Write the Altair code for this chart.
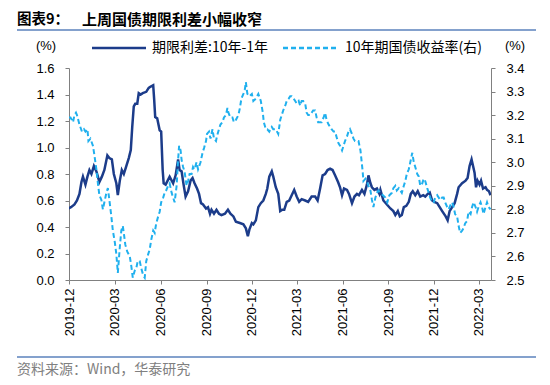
import altair as alt
import pandas as pd

start = pd.Timestamp("2019-12-01")

# 期限利差:10年-1年 (days since 2019-12-01, %)
spread_days = [-2, 3, 10, 15, 20, 24, 27, 32, 36, 40, 44, 49, 54, 60, 65, 70, 76, 80, 85, 89, 94, 97, 101, 105, 109, 114,
               119, 123, 126, 129, 132, 136, 139, 143, 147, 154, 159, 163, 168, 170, 172, 176, 181, 184, 187, 189, 193,
               197, 201, 208, 213, 218, 221, 225, 229, 233, 238, 243, 247, 251, 256, 260, 264, 268, 274, 278, 282, 285,
               290, 295, 300, 305, 312, 318, 323, 329, 334, 342, 349, 354, 358, 361, 366, 369, 374, 379, 384, 389, 394,
               397, 401, 406, 409, 414, 419, 423, 427, 431, 436, 441, 446, 451, 456, 461, 466, 473, 479, 486, 493, 498,
               503, 508, 513, 518, 523, 528, 533, 539, 543, 547, 551, 557, 561, 567, 572, 577, 581, 587, 592, 597, 600,
               604, 607, 612, 617, 622, 624, 630, 637, 644, 650, 654, 659, 663, 667, 671, 676, 681, 685, 689, 694, 699,
               704, 710, 714, 719, 723, 728, 732, 738, 743, 748, 755, 759, 763, 768, 773, 778, 781, 788, 795, 799, 803,
               807, 810, 813, 816, 819, 823, 826, 830, 835, 838, 842, 845]
spread_vals = [0.54, 0.55, 0.57, 0.60, 0.65, 0.74, 0.78, 0.72, 0.78, 0.83, 0.80, 0.86, 0.82, 0.74, 0.78, 0.83, 0.94, 0.92,
               0.91, 0.80, 0.73, 0.64, 0.75, 0.83, 0.80, 0.86, 0.92, 0.98, 1.16, 1.31, 1.33, 1.33, 1.41, 1.40, 1.41, 1.42,
               1.45, 1.46, 1.47, 1.36, 1.23, 1.22, 1.13, 1.12, 0.83, 0.73, 0.72, 0.75, 0.78, 0.73, 0.79, 0.91, 0.83, 0.82,
               0.72, 0.63, 0.67, 0.75, 0.77, 0.73, 0.69, 0.65, 0.58, 0.57, 0.54, 0.55, 0.50, 0.53, 0.50, 0.53, 0.50, 0.49,
               0.50, 0.53, 0.50, 0.48, 0.44, 0.43, 0.42, 0.39, 0.33, 0.38, 0.43, 0.42, 0.45, 0.55, 0.58, 0.60, 0.65, 0.69,
               0.78, 0.82, 0.78, 0.70, 0.65, 0.52, 0.53, 0.53, 0.59, 0.60, 0.64, 0.68, 0.63, 0.59, 0.61, 0.60, 0.59, 0.63,
               0.63, 0.60, 0.69, 0.79, 0.80, 0.83, 0.84, 0.83, 0.79, 0.74, 0.70, 0.64, 0.69, 0.68, 0.65, 0.58, 0.63, 0.65,
               0.64, 0.68, 0.65, 0.72, 0.79, 0.73, 0.70, 0.68, 0.69, 0.65, 0.68, 0.60, 0.57, 0.54, 0.52, 0.49, 0.52, 0.48,
               0.49, 0.55, 0.56, 0.59, 0.65, 0.67, 0.64, 0.67, 0.63, 0.64, 0.63, 0.65, 0.66, 0.60, 0.59, 0.58, 0.55, 0.52,
               0.48, 0.45, 0.52, 0.55, 0.58, 0.65, 0.70, 0.73, 0.75, 0.77, 0.86, 0.91, 0.86, 0.81, 0.70, 0.75, 0.72, 0.75,
               0.69, 0.70, 0.68, 0.67, 0.64]

# 10年期国债收益率(右) (days since 2019-12-01, %)
yield_days = [-2, 2, 7, 10, 13, 15, 20, 25, 29, 32, 36, 38, 42, 47, 50, 54, 57, 60, 64, 67, 70, 74, 77, 80, 84, 87, 91,
              94, 97, 101, 104, 107, 109, 112, 116, 121, 124, 127, 131, 134, 137, 141, 144, 148, 151, 154, 158, 161, 164,
              168, 171, 174, 178, 181, 184, 188, 191, 194, 198, 201, 205, 208, 211, 215, 218, 220, 223, 225, 228, 231,
              235, 238, 241, 245, 248, 251, 255, 258, 263, 267, 270, 274, 276, 280, 283, 287, 290, 294, 296, 300, 303,
              307, 310, 314, 317, 319, 323, 327, 330, 334, 339, 342, 345, 349, 352, 354, 357, 361, 366, 369, 374, 379,
              384, 388, 390, 394, 397, 401, 406, 409, 414, 419, 423, 426, 429, 433, 436, 440, 443, 446, 450, 453, 456,
              460, 463, 466, 469, 473, 476, 479, 483, 486, 489, 493, 496, 499, 503, 506, 510, 513, 516, 520, 523, 526,
              530, 533, 537, 540, 543, 547, 550, 553, 557, 560, 563, 567, 570, 573, 577, 580, 584, 586, 588, 590, 594,
              597, 600, 604, 607, 610, 614, 617, 620, 624, 629, 634, 638, 642, 647, 650, 654, 657, 661, 664, 667, 671,
              674, 677, 681, 684, 688, 691, 694, 698, 701, 704, 708, 711, 714, 718, 721, 724, 728, 731, 734, 738, 741,
              744, 748, 751, 754, 758, 761, 765, 768, 771, 774, 778, 781, 784, 788, 791, 794, 798, 801, 805, 808, 811,
              815, 818, 821, 825, 828, 831, 835, 838, 841, 845]
yield_vals = [3.19, 3.19, 3.17, 3.20, 3.21, 3.20, 3.16, 3.13, 3.14, 3.13, 3.14, 3.09, 3.10, 3.07, 3.03, 2.97, 2.91, 2.86,
              2.84, 2.80, 2.83, 2.87, 2.89, 2.84, 2.77, 2.71, 2.66, 2.61, 2.53, 2.64, 2.71, 2.73, 2.70, 2.65, 2.62, 2.60,
              2.56, 2.51, 2.54, 2.55, 2.58, 2.58, 2.55, 2.52, 2.51, 2.58, 2.61, 2.63, 2.67, 2.71, 2.70, 2.74, 2.77, 2.79,
              2.83, 2.85, 2.87, 2.88, 2.90, 2.91, 2.87, 2.85, 2.83, 2.90, 3.01, 3.07, 3.05, 3.01, 2.98, 2.96, 2.90, 2.92,
              2.95, 2.95, 2.98, 2.97, 3.00, 2.97, 3.00, 3.04, 3.06, 3.09, 3.12, 3.13, 3.10, 3.14, 3.10, 3.09, 3.11, 3.14,
              3.16, 3.17, 3.19, 3.20, 3.23, 3.21, 3.19, 3.19, 3.17, 3.18, 3.20, 3.23, 3.27, 3.29, 3.31, 3.34, 3.29, 3.28,
              3.29, 3.26, 3.27, 3.29, 3.26, 3.21, 3.17, 3.14, 3.14, 3.13, 3.15, 3.14, 3.14, 3.12, 3.18, 3.20, 3.22, 3.24,
              3.26, 3.27, 3.28, 3.28, 3.27, 3.26, 3.25, 3.26, 3.24, 3.26, 3.26, 3.25, 3.21, 3.20, 3.20, 3.21, 3.22, 3.22,
              3.19, 3.17, 3.17, 3.17, 3.19, 3.21, 3.18, 3.16, 3.15, 3.14, 3.13, 3.13, 3.10, 3.08, 3.07, 3.05, 3.07, 3.09,
              3.11, 3.13, 3.14, 3.12, 3.10, 3.09, 3.09, 3.09, 3.05, 3.01, 2.97, 2.92, 2.93, 2.92, 2.90, 2.88, 2.84, 2.81,
              2.85, 2.87, 2.88, 2.87, 2.86, 2.85, 2.83, 2.86, 2.87, 2.89, 2.90, 2.88, 2.89, 2.88, 2.87, 2.90, 2.92, 2.95,
              2.97, 3.00, 3.04, 3.00, 2.98, 2.95, 2.94, 2.90, 2.91, 2.93, 2.92, 2.89, 2.87, 2.85, 2.83, 2.83, 2.85, 2.86,
              2.85, 2.84, 2.85, 2.85, 2.83, 2.81, 2.80, 2.82, 2.83, 2.81, 2.78, 2.77, 2.73, 2.70, 2.71, 2.72, 2.74, 2.75,
              2.79, 2.78, 2.81, 2.83, 2.81, 2.79, 2.81, 2.83, 2.81, 2.78, 2.81, 2.83, 2.81, 2.80]

tick_months = ["2019-12", "2020-03", "2020-06", "2020-09", "2020-12", "2021-03",
               "2021-06", "2021-09", "2021-12", "2022-03"]
left_ticks = [0.0, 0.2, 0.4, 0.6, 0.8, 1.0, 1.2, 1.4, 1.6]
right_ticks = [2.5, 2.6, 2.7, 2.8, 2.9, 3.0, 3.1, 3.2, 3.3, 3.4]

NAVY = "#1c3c8a"
LIGHT = "#20b0ee"
AXIS = "#808080"
LATIN = "Liberation Sans"
CJK = "Noto Sans CJK SC"

df_s = pd.DataFrame({"date": start + pd.to_timedelta(spread_days, unit="D"), "v": spread_vals})
df_y = pd.DataFrame({"date": start + pd.to_timedelta(yield_days, unit="D"), "v": yield_vals})

x_enc = alt.X(
    "date:T",
    scale=alt.Scale(domain=[alt.DateTime(year=2019, month=11, date=30),
                            alt.DateTime(year=2022, month=3, date=26)]),
    axis=alt.Axis(
        values=[alt.DateTime(year=int(m[:4]), month=int(m[5:]), date=1) for m in tick_months],
        format="%Y-%m", labelAngle=270, labelAlign="right", labelBaseline="middle",
        labelPadding=4, tickSize=4, labelFontSize=13, labelFont=LATIN, labelColor="#000000",
        domainColor=AXIS, tickColor=AXIS, grid=False, title=None,
    ),
)

spread = alt.Chart(df_s).mark_line(color=NAVY, strokeWidth=2.5, clip=True).encode(
    x=x_enc,
    y=alt.Y("v:Q", scale=alt.Scale(domain=[0, 1.6], nice=False, zero=False),
            axis=alt.Axis(orient="left", values=left_ticks, format=".1f", tickSize=4,
                          labelPadding=11, labelFontSize=13, labelFont=LATIN, labelColor="#000000",
                          domainColor=AXIS, tickColor=AXIS, grid=False, title=None)),
)

yld = alt.Chart(df_y).mark_line(color=LIGHT, strokeWidth=2, strokeDash=[5, 3], clip=True).encode(
    x=x_enc,
    y=alt.Y("v:Q", scale=alt.Scale(domain=[2.5, 3.4], nice=False, zero=False),
            axis=alt.Axis(orient="right", values=right_ticks, format=".1f", tickSize=4,
                          labelPadding=11, labelFontSize=13, labelFont=LATIN, labelColor="#000000",
                          domainColor=AXIS, tickColor=AXIS, grid=False, title=None)),
)

one = alt.Data(values=[{}])


def text(t, x, y, size=13, font=CJK, color="#000000", weight="normal", align="left"):
    return alt.Chart(one).mark_text(text=t, align=align, baseline="middle", fontSize=size, font=font,
                                    color=color, fontWeight=weight).encode(x=alt.value(x), y=alt.value(y))


def rule(x1, x2, y, color, width, dash=None):
    kw = dict(color=color, strokeWidth=width)
    if dash:
        kw["strokeDash"] = dash
    return alt.Chart(one).mark_rule(**kw).encode(x=alt.value(x1), x2=alt.value(x2), y=alt.value(y))


deco = [
    text("图表9：", -52, -48, size=14.5, weight="bold"),
    text("上周国债期限利差小幅收窄", 13, -48, size=15, weight="bold"),
    rule(-52, 474, -38, "#5b82bd", 1.5),
    text("(%)", -23, -22, font=LATIN, align="center"),
    text("(%)", 446, -22, font=LATIN, align="center"),
    rule(23, 77, -20, NAVY, 2.5),
    text("期限利差:10年-1年", 83, -20, size=14),
    rule(214, 268, -20, LIGHT, 2.5, dash=[5, 3]),
    text("10年期国债收益率(右)", 276, -20, size=14),
    rule(-52, 474, 289, "#5b82bd", 1.5),
    text("资料来源：Wind，华泰研究", -52, 302, size=14, color="#808080"),
]

chart = alt.layer(spread, yld, *deco).resolve_scale(y="independent").properties(
    width=422, height=212,
    autosize=alt.AutoSizeParams(type="none"),
    padding={"left": 61, "top": 60, "right": 45, "bottom": 100},
).configure_view(stroke=None)

chart.save("out.html", embed_options={"renderer": "svg", "actions": False})
